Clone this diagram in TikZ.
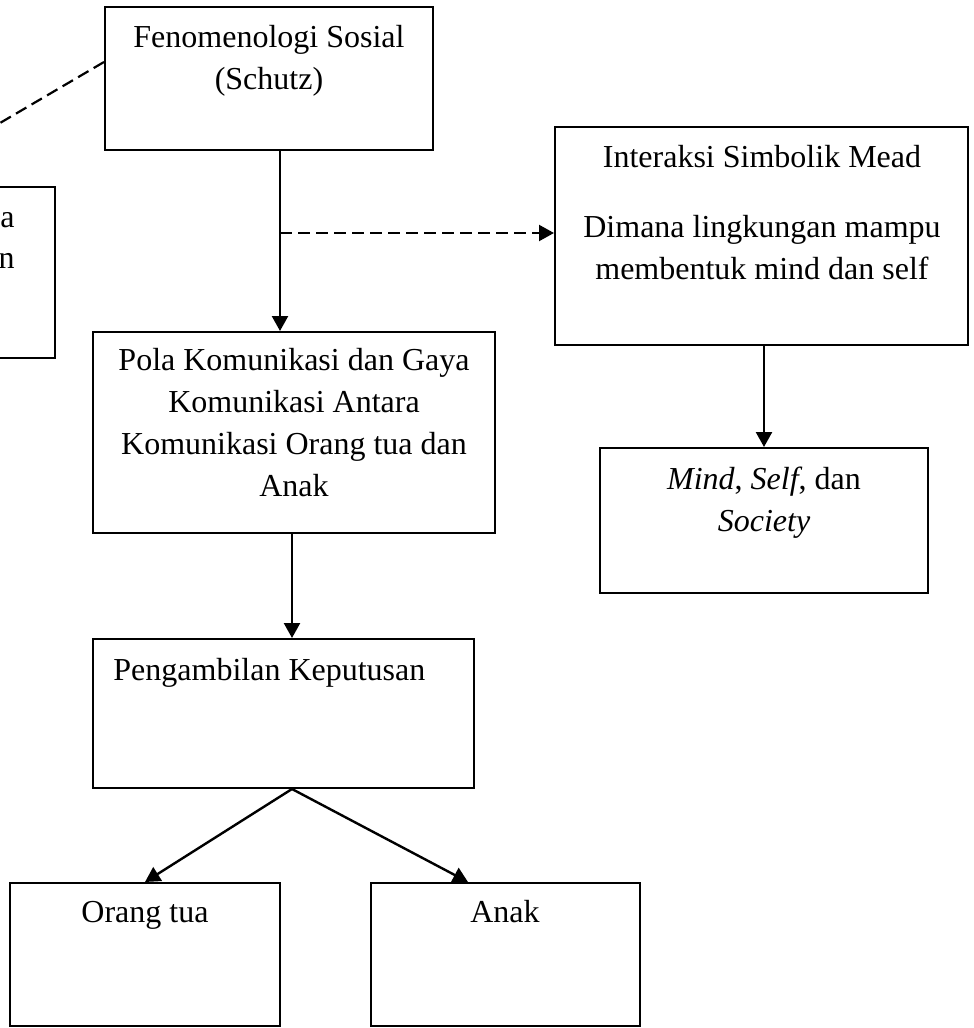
\documentclass[tikz,border=0pt]{standalone}
\usepackage{fontspec}
\setmainfont{Liberation Serif}
\usetikzlibrary{arrows.meta,fit}
\begin{document}
\begin{tikzpicture}[x=0.5pt,y=-0.5pt,
  box/.style={draw,line width=1pt,inner sep=0pt},
  lbl/.style={inner sep=0pt,font=\fontsize{16}{21}\selectfont},
  arr/.style={line width=1.2pt,-{Triangle[length=7.5pt,width=8pt]}},
  dsh/.style={line width=1.1pt,dash pattern=on 6pt off 3pt}]
\useasboundingbox (0,0) rectangle (974,1028);
% boxes
\node[box,fit={(105,7) (433,150)}] (fen) {};
\node[box,fit={(-10,187) (55,358)}] (left) {};
\node[box,fit={(555,127) (968,345)}] (int) {};
\node[box,fit={(93,332) (495,533)}] (pola) {};
\node[box,fit={(600,448) (928,593)}] (mind) {};
\node[box,fit={(93,639) (474,788)}] (peng) {};
\node[box,fit={(10,883) (280,1026)}] (orang) {};
\node[box,fit={(371,883) (640,1026)}] (anak) {};
% texts
\node[lbl,align=center,anchor=north] (tfen) at (269,25) {Fenomenologi Sosial\\(Schutz)};
\node[lbl,anchor=base east] (ta) at (15,227) {a};
\node[lbl,anchor=base east] (tn) at (15,268) {n};
\node[lbl,anchor=base] (tint) at (762,167) {Interaksi Simbolik Mead};
\node[lbl,align=center,anchor=north] (tint2) at (762,215) {Dimana lingkungan mampu\\membentuk mind dan self};
\node[lbl,align=center,anchor=north] (tpola) at (294,348) {Pola Komunikasi dan Gaya\\Komunikasi Antara\\Komunikasi Orang tua dan\\Anak};
\node[lbl,align=center,anchor=north] (tmind) at (764,467) {\textit{Mind}, \textit{Self}, dan\\\textit{Society}};
\node[lbl,anchor=base west] (tpeng) at (113,680) {Pengambilan Keputusan};
\node[lbl,anchor=base] (torang) at (145,922) {Orang tua};
\node[lbl,anchor=base] (tanak) at (505,922) {Anak};
% helper coordinates
\coordinate (x280) at (280,0);
\coordinate (x292) at (292,0);
\coordinate (x468) at (468,0);
\coordinate (j1) at (280,233);
\coordinate (y62) at (0,62);
\coordinate (dfree) at (0,123);
% connectors
\draw[arr] (fen.south -| x280) -- (pola.north -| x280);
\draw[dsh,-{Triangle[length=7.5pt,width=8pt]}] (j1) -- (int.west |- j1);
\draw[arr] (int.south -| mind.north) -- (mind.north);
\draw[arr] (pola.south -| x292) -- (peng.north -| x292);
\draw[arr] (peng.south -| x292) -- (orang.north);
\draw[arr] (peng.south -| x292) -- (anak.north -| x468);
\draw[dsh] (fen.west |- y62) -- (dfree);
\end{tikzpicture}
\end{document}
